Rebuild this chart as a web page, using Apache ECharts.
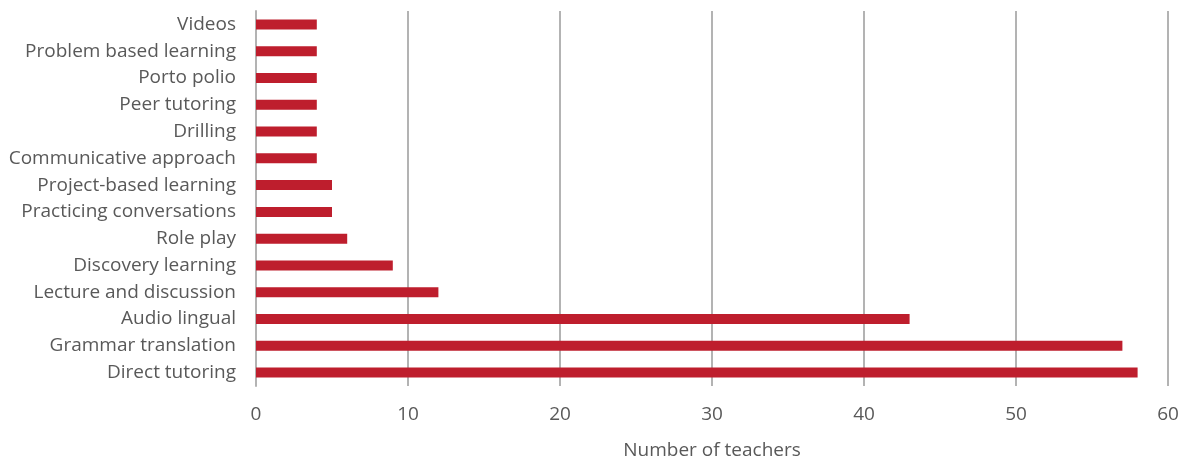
<!DOCTYPE html>
<html><head><meta charset="utf-8">
<script src="https://cdn.jsdelivr.net/npm/echarts@6/dist/echarts.min.js"></script>
<style>html,body{margin:0;padding:0;background:#fff}#c{width:1181px;height:459px}</style>
</head><body><div id="c"></div>
<script>
const categories = ["Direct tutoring","Grammar translation","Audio lingual","Lecture and discussion","Discovery learning","Role play","Practicing conversations","Project-based learning","Communicative approach","Drilling","Peer tutoring","Porto polio","Problem based learning","Videos"];
const teachers = [58,57,43,12,9,6,5,5,4,4,4,4,4,4];
const xTicks = [0,10,20,30,40,50,60];
const chart = echarts.init(document.getElementById('c'), null, {renderer:'canvas'});
const font = '"Open Sans", Roboto, sans-serif';
chart.setOption({
  animation:false,
  grid:{left:256,right:13,top:11,bottom:73,containLabel:false,outerBoundsMode:'none'},
  xAxis:{type:'value',min:xTicks[0],max:xTicks[xTicks.length-1],interval:10,
    name:'Number of teachers',nameLocation:'middle',nameGap:55,
    nameTextStyle:{color:'#595959',fontSize:19,fontFamily:font},
    axisLine:{show:false},axisTick:{show:false},
    axisLabel:{color:'#595959',fontSize:19,fontFamily:font,margin:19},
    splitLine:{show:true,lineStyle:{color:'#b3b3b3',width:2}}},
  yAxis:{type:'category',data:categories,
    axisLine:{show:true,lineStyle:{color:'#b3b3b3',width:2}},
    axisTick:{show:false},
    axisLabel:{color:'#595959',fontSize:19,fontFamily:font,margin:20}},
  series:[{type:'bar',data:teachers,barWidth:10,itemStyle:{color:'#BE1E2D'}}]
});
</script></body></html>
